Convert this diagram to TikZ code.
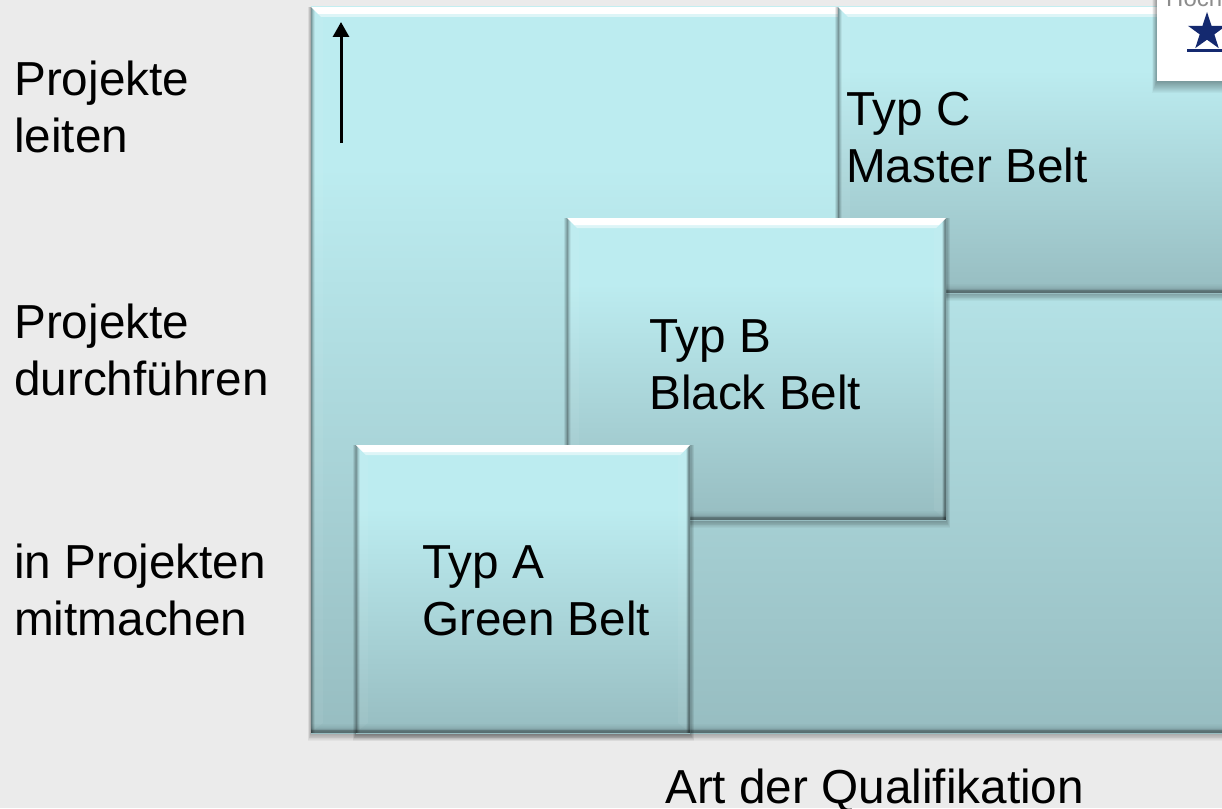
\documentclass[tikz,border=0pt]{standalone}
\usepackage{fontspec}
\setmainfont{Liberation Sans}
\usetikzlibrary{arrows.meta,calc,shapes.geometric}
\definecolor{bgc}{HTML}{EBEBEB}
\definecolor{boxtop}{HTML}{BCECF0}
\definecolor{boxbot}{HTML}{97BDC1}
\definecolor{navy}{HTML}{14296F}
\pgfdeclareverticalshading{boxshade}{100bp}{color(0bp)=(boxbot); color(25bp)=(boxbot); color(64bp)=(boxtop); color(100bp)=(boxtop)}
\tikzset{
  lbl/.style={font=\fontsize{47.7}{57}\selectfont, align=left, inner sep=0pt, text=black},
  boxbase/.style={inner sep=0pt, outer sep=0pt, shading=boxshade, anchor=north west},
  arrowline/.style={line width=3pt, -{Triangle[length=15pt,width=16pt]}}
}
\newcommand{\bevelbox}[5]{%
  % soft shadow
  \foreach \s in {1,2,...,9}{
    \fill[black,opacity=0.035] (#2-\s*0.35,-#3) rectangle (#4+\s*0.45,-#5-\s*0.9);
  }
  \node[boxbase, minimum width=#4pt-#2pt, minimum height=#5pt-#3pt] (#1) at (#2,-#3) {};
  % lighter inner bands
  \fill[white,opacity=0.05] ($(#1.north west)+(3,-3)$) -- ($(#1.north west)+(12,-12)$) -- ($(#1.south west)+(12,10)$) -- ($(#1.south west)+(3,3)$) -- cycle;
  \fill[white,opacity=0.05] ($(#1.north east)+(-3,-3)$) -- ($(#1.north east)+(-12,-12)$) -- ($(#1.south east)+(-12,10)$) -- ($(#1.south east)+(-3,3)$) -- cycle;
  % left edge
  \foreach \d/\o in {0/0.36,1/0.24,2/0.13,3/0.05}{
    \fill[black,opacity=\o] ($(#1.north west)+(\d,0)$) rectangle ($(#1.south west)+(\d+1,0)$);
  }
  % right edge
  \foreach \d/\o in {0/0.42,1/0.36,2/0.2,3/0.06}{
    \fill[black,opacity=\o] ($(#1.north east)+(-\d,0)$) rectangle ($(#1.south east)+(-\d-1,0)$);
  }
  % bottom edge
  \foreach \d/\o in {0/0.42,1/0.40,2/0.36,3/0.18,4/0.10,5/0.07,6/0.05,7/0.03,8/0.02}{
    \fill[black,opacity=\o] ($(#1.south west)+(0,\d)$) rectangle ($(#1.south east)+(0,\d+1)$);
  }
  % top highlight
  \fill[white] (#1.north west) -- (#1.north east) -- ($(#1.north east)+(-7,-7)$) -- ($(#1.north west)+(7,-7)$) -- cycle;
  \fill[white,opacity=0.5] ($(#1.north west)+(7,-7)$) -- ($(#1.north east)+(-7,-7)$) -- ($(#1.north east)+(-10,-10)$) -- ($(#1.north west)+(10,-10)$) -- cycle;
}
\begin{document}
\begin{tikzpicture}[x=1pt,y=1pt]
\useasboundingbox[clip] (0,0) rectangle (1222,-808);
\fill[bgc] (0,0) rectangle (1222,-808);
\bevelbox{main}{311}{7}{1240}{733}
\bevelbox{boxc}{838}{7}{1240}{293}
\bevelbox{boxb}{567}{218}{946}{520}
\bevelbox{boxa}{356}{445}{690}{733}
% logo
\foreach \s in {1,2,...,12}{\fill[black,opacity=0.03] (1157-\s*0.4,0) rectangle (1230,-81-\s);}
\fill[white] (1157,0) rectangle (1230,-81);
\begin{scope}
\clip (1157,0) rectangle (1222,-81);
\node[font=\fontsize{24}{24}\selectfont, text=black!45, anchor=base west, inner sep=0pt] (logotext) at (1166,-7) {Hoch};
\node[star, star points=5, star point ratio=2.6, fill=navy, inner sep=0pt, minimum size=40pt] (logostar) at (1207,-32) {};
\fill[navy] (1187,-49) rectangle (1222,-52);
\end{scope}
% arrow
\coordinate (arrstart) at (341,-143);
\coordinate (arrend) at (341,-22);
\draw[arrowline] (arrstart) -- (arrend);
% labels
\node[lbl, anchor=base west] (l1) at (14,-152) {Projekte\\leiten};
\node[lbl, anchor=base west] (l2) at (14,-395) {Projekte\\durchführen};
\node[lbl, anchor=base west] (l3) at (14,-635) {in Projekten\\mitmachen};
\node[lbl, anchor=base west] (tc) at (846,-182) {Typ C\\Master Belt};
\node[lbl, anchor=base west] (tb) at (649,-409) {Typ B\\Black Belt};
\node[lbl, anchor=base west] (ta) at (422,-635) {Typ A\\Green Belt};
\node[lbl, anchor=base west] (ax) at (665,-803) {Art der Qualifikation};
\end{tikzpicture}
\end{document}
